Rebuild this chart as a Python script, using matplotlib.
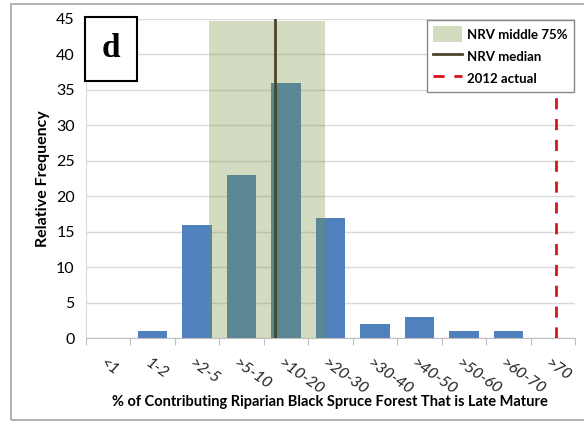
import matplotlib
matplotlib.use('Agg')
from matplotlib import pyplot as plt
from matplotlib.patches import Rectangle, Patch
from matplotlib.lines import Line2D

categories = ['<1', '1-2', '>2-5', '>5-10', '>10-20', '>20-30', '>30-40', '>40-50', '>50-60', '>60-70', '>70']
freq = [0, 1, 16, 23, 36, 17, 2, 3, 1, 1, 0]
nrv_low = 2.27     # middle 75% band, in category position units
nrv_high = 4.88
nrv_top = 44.7
nrv_median = 3.745
actual_2012 = 10.07

plt.rcParams['font.family'] = ['Lato', 'DejaVu Sans']

fig = plt.figure(figsize=(5.84, 4.21), dpi=100)
ax = fig.add_axes([0.147, 0.197, 0.838, 0.758])

x = list(range(len(categories)))
ax.bar(x, freq, width=0.66, color='#4F81BD', zorder=2)
ax.axvspan(nrv_low, nrv_high, ymin=0, ymax=nrv_top / 45, color='#77933C', alpha=0.32, lw=0, zorder=3)
ax.axvline(nrv_median, color='#4A452A', lw=2, zorder=4)
ax.axvline(actual_2012, ymax=0.775, color='#D7141A', lw=2, ls=(0, (4, 3.5)), zorder=4)

ax.set_xlim(-0.5, len(categories) - 0.5)
ax.set_ylim(0, 45)
ax.set_yticks(range(0, 46, 5))
ax.yaxis.grid(True, color='#D9D9D9', lw=1, zorder=0)
ax.set_axisbelow(True)
for s in ['top', 'right']:
    ax.spines[s].set_visible(False)
ax.spines['left'].set_color('#D9D9D9')
ax.spines['bottom'].set_color('#BFBFBF')
ax.tick_params(axis='y', length=0, labelsize=11.5, pad=8)
ax.set_xticks([i - 0.5 for i in range(len(categories) + 1)], minor=False)
ax.set_xticklabels([])
ax.tick_params(axis='x', length=5, color='#BFBFBF', direction='out')
for i, c in enumerate(categories):
    ax.text(i - 0.05, -2.5, c, rotation=-35, rotation_mode='anchor', ha='left', va='top',
            fontsize=11.5, fontstyle='italic', color='#222222')

ax.set_ylabel('Relative Frequency', fontsize=11.5, fontweight='bold', labelpad=4)
fig.text(330 / 584, 1 - 402 / 421, '% of Contributing Riparian Black Spruce Forest That is Late Mature',
         fontsize=10.5, fontweight='bold', ha='center', va='center')

# panel letter box
ax.text(0.051, 0.906, 'd', transform=ax.transAxes, fontsize=24, fontweight='bold',
        family='Liberation Serif', ha='center', va='center',
        bbox=dict(boxstyle='square,pad=0.5', fc='white', ec='black', lw=1.5), zorder=6)

handles = [Patch(facecolor='#77933C', alpha=0.32, edgecolor='none'),
           Line2D([0], [0], color='#4A452A', lw=2),
           Line2D([0], [0], color='#D7141A', lw=2, ls=(0, (4, 3.5)))]
leg = ax.legend(handles, ['NRV middle 75%', 'NRV median', '2012 actual'], loc='upper right',
                bbox_to_anchor=(1.0, 1.0), fancybox=False, framealpha=1, edgecolor='#888888',
                prop={'weight': 'bold', 'size': 9.5}, handlelength=2.2, handleheight=1.5,
                handletextpad=0.4, borderpad=0.45, labelspacing=0.45, borderaxespad=0.1)
leg.get_frame().set_linewidth(1)
leg.set_zorder(6)

fig.patches.append(Rectangle((11 / 584, 1 / 421), 1.0, 416 / 421, transform=fig.transFigure,
                             fill=False, ec='#A6A6A6', lw=1.2))

fig.savefig('out.png', dpi=100)
